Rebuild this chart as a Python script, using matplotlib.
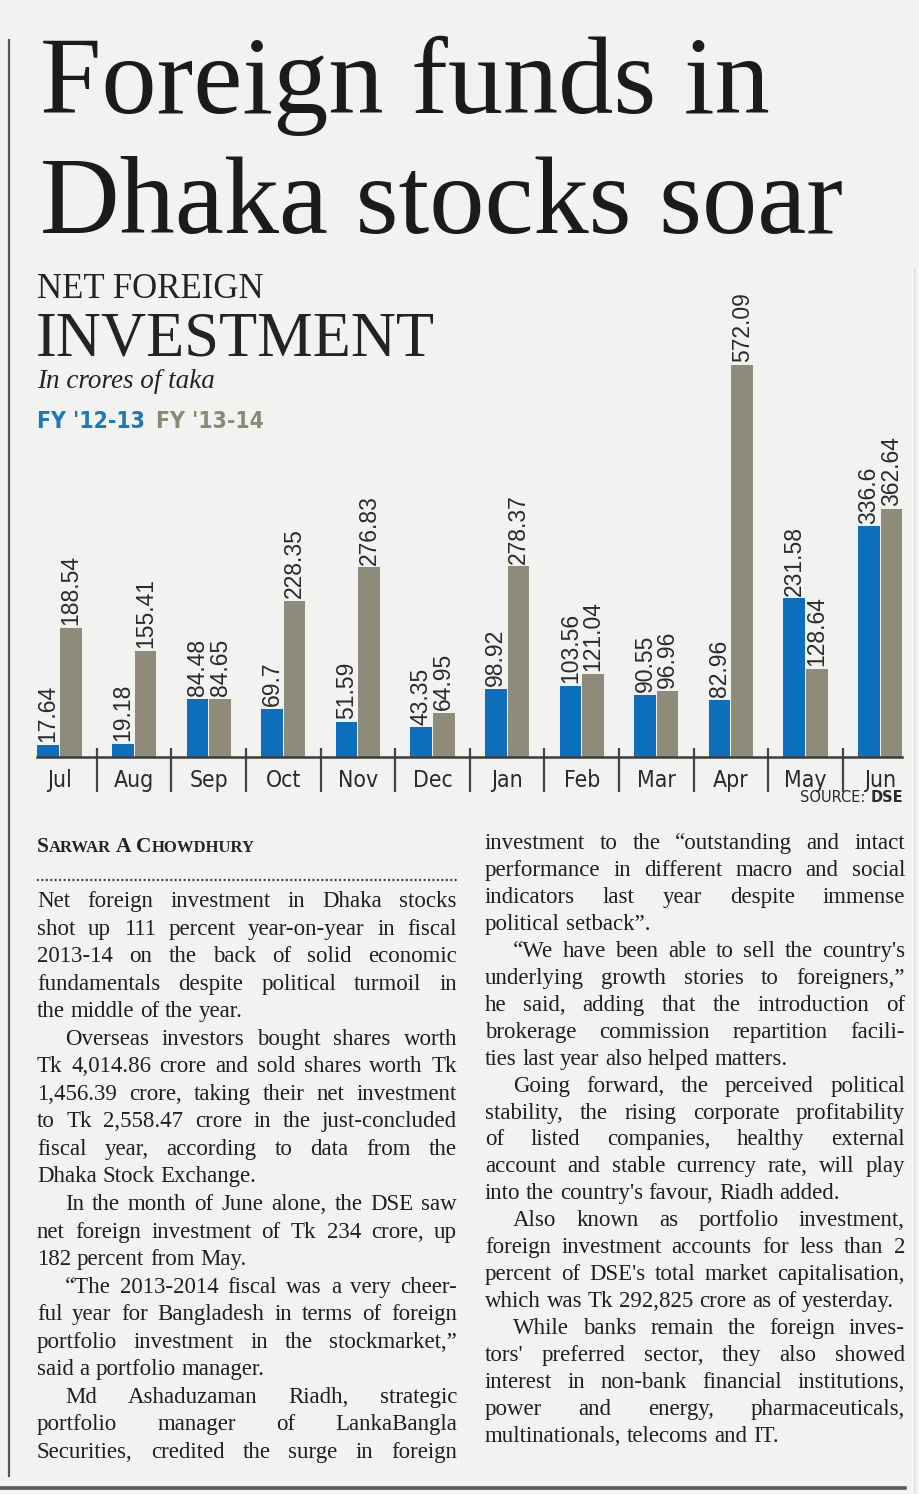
"""
Net foreign investment in Dhaka stocks - newspaper clipping remake
"""
import os
import matplotlib
matplotlib.use("Agg")
import matplotlib.pyplot as plt
from matplotlib import font_manager as fm

W, H = 920, 1494          # page size in pixels
BG = "#f2f2f0"
INK = "#232323"
BLUE = "#0d6fbd"
GREY = "#8e8b7b"
BLUE_TXT = "#1b77be"
GREY_TXT = "#8b8975"

# ---- chart data (crore taka) ----
months = ["Jul", "Aug", "Sep", "Oct", "Nov", "Dec",
          "Jan", "Feb", "Mar", "Apr", "May", "Jun"]
fy_12_13 = [17.64, 19.18, 84.48, 69.7, 51.59, 43.35,
            98.92, 103.56, 90.55, 82.96, 231.58, 336.6]
fy_13_14 = [188.54, 155.41, 84.65, 228.35, 276.83, 64.95,
            278.37, 121.04, 96.96, 572.09, 128.64, 362.64]
series_names = ["FY '12-13", "FY '13-14"]

# ---- article text, one list per paragraph ----
left_paras = [
    ["Net foreign investment in Dhaka stocks",
     "shot up 111 percent year-on-year in fiscal",
     "2013-14 on the back of solid economic",
     "fundamentals despite political turmoil in",
     "the middle of the year."],
    ["Overseas investors bought shares worth",
     "Tk 4,014.86 crore and sold shares worth Tk",
     "1,456.39 crore, taking their net investment",
     "to Tk 2,558.47 crore in the just-concluded",
     "fiscal year, according to data from the",
     "Dhaka Stock Exchange."],
    ["In the month of June alone, the DSE saw",
     "net foreign investment of Tk 234 crore, up",
     "182 percent from May."],
    ["\u201cThe 2013-2014 fiscal was a very cheer-",
     "ful year for Bangladesh in terms of foreign",
     "portfolio investment in the stockmarket,\u201d",
     "said a portfolio manager."],
    ["Md Ashaduzaman Riadh, strategic",
     "portfolio manager of LankaBangla",
     "Securities, credited the surge in foreign"],
]
right_paras = [
    ["investment to the \u201coutstanding and intact",
     "performance in different macro and social",
     "indicators last year despite immense",
     "political setback\u201d."],
    ["\u201cWe have been able to sell the country's",
     "underlying growth stories to foreigners,\u201d",
     "he said, adding that the introduction of",
     "brokerage commission repartition facili-",
     "ties last year also helped matters."],
    ["Going forward, the perceived political",
     "stability, the rising corporate profitability",
     "of listed companies, healthy external",
     "account and stable currency rate, will play",
     "into the country's favour, Riadh added."],
    ["Also known as portfolio investment,",
     "foreign investment accounts for less than 2",
     "percent of DSE's total market capitalisation,",
     "which was Tk 292,825 crore as of yesterday."],
    ["While banks remain the foreign inves-",
     "tors' preferred sector, they also showed",
     "interest in non-bank financial institutions,",
     "power and energy, pharmaceuticals,",
     "multinationals, telecoms and IT."],
]

# ---- fonts ----
_names = {f.name for f in fm.fontManager.ttflist}
SERIF = "Liberation Serif" if "Liberation Serif" in _names else "DejaVu Serif"
SANS = "Liberation Sans" if "Liberation Sans" in _names else "DejaVu Sans"
plt.rcParams["font.family"] = [SERIF, "DejaVu Serif"]


def narrow_font(size, bold=False):
    """A condensed sans if one is installed, else the plain sans a bit smaller."""
    for f in fm.fontManager.ttflist:
        fn = os.path.basename(f.fname)
        if not ("Narrow" in fn or "SansCondensed" in fn or "Condensed" in fn):
            continue
        if "Italic" in fn or "Oblique" in fn or "Serif" in fn or "Mono" in fn:
            continue
        if ("Bold" in fn) != bold:
            continue
        return fm.FontProperties(fname=f.fname, size=size)
    return fm.FontProperties(family=SANS, size=size * 0.84,
                             weight="bold" if bold else "normal")


fig = plt.figure(figsize=(W / 100, H / 100), dpi=100, facecolor=BG)
renderer = fig.canvas.get_renderer()

# page axes in pixel coordinates, origin top-left
page = fig.add_axes([0, 0, 1, 1])
page.set_xlim(0, W)
page.set_ylim(H, 0)
page.axis("off")


def width_of(t):
    return t.get_window_extent(renderer).width


# ---- headline ----
page.text(40, 113, "Foreign funds in", fontsize=79.5, family=SERIF, color="#1b1b1b", va="baseline")
page.text(40, 233, "Dhaka stocks soar", fontsize=79.5, family=SERIF, color="#1b1b1b", va="baseline")

# rules round the page
page.plot([9, 9], [40, 1476], color="#555555", lw=1.6)
page.plot([0, 905], [1488, 1488], color="#5a5a5a", lw=2.6)
page.plot([915, 915], [270, H], color="#e4e4e2", lw=1.5)

# ---- chart header ----
page.text(37, 298, "NET FOREIGN", fontsize=25, family=SERIF, color=INK, va="baseline")
page.text(36, 355, "INVESTMENT", fontsize=45, family=SERIF, color=INK, va="baseline")
page.text(37, 388, "In crores of taka", fontsize=19.5, family=SERIF, style="italic",
          color=INK, va="baseline")
fy_fp = narrow_font(16.5, bold=True)
t1 = page.text(37, 428, series_names[0], fontproperties=fy_fp, color=BLUE_TXT, va="baseline")
page.text(37 + width_of(t1) + 11, 428, series_names[1], fontproperties=fy_fp,
          color=GREY_TXT, va="baseline")

# ---- bar chart ----
BASE_Y, TOP_Y = 757, 270     # pixel rows of the zero line and the top of the chart box
PX_PER_UNIT = 0.685          # pixels per crore
GROUP_PX, FIRST_PX = 74.6, 59.5
ax = fig.add_axes([0, (H - BASE_Y) / H, 1, (BASE_Y - TOP_Y) / H])
ax.set_xlim(-FIRST_PX / GROUP_PX, (W - FIRST_PX) / GROUP_PX)
ax.set_ylim(0, (BASE_Y - TOP_Y) / PX_PER_UNIT)
ax.axis("off")

bw, off = 0.29, 0.152
xs = list(range(len(months)))
ax.bar([x - off for x in xs], fy_12_13, width=bw, color=BLUE, zorder=2)
ax.bar([x + off for x in xs], fy_13_14, width=bw, color=GREY, zorder=2)

for x, a, b in zip(xs, fy_12_13, fy_13_14):
    for xx, v in ((x - off, a), (x + off, b)):
        ax.annotate(f"{v:g}", (xx, v), xytext=(0, 2), textcoords="offset points",
                    rotation=90, ha="center", va="bottom", fontsize=16.5,
                    family=SANS, color="#2a2a2a", annotation_clip=False)

x_left = xs[0] - off - bw / 2
x_right = xs[-1] + off + bw / 2
ax.plot([x_left, x_right], [0, 0], color="#3c3c3c", lw=1.8, clip_on=False, zorder=3)
seps = [x + 0.5 for x in xs[:-1]]
ax.vlines(seps, -35 / PX_PER_UNIT, 9 / PX_PER_UNIT, color="#444444", lw=1.6, clip_on=False)

month_fp = narrow_font(16.5)
for x, m in zip(xs, months):
    ax.annotate(m, (x, 0), xytext=(0, -21.5), textcoords="offset points", ha="center",
                va="baseline", fontproperties=month_fp, color="#2a2a2a",
                annotation_clip=False)

dse = page.text(903, 802, "DSE", fontsize=10.5, family="DejaVu Sans", weight="bold",
                color="#2a2a2a", ha="right", va="baseline")
page.text(903 - width_of(dse), 802, "SOURCE: ", fontsize=10.5, family="DejaVu Sans",
          color="#2a2a2a", ha="right", va="baseline")

# ---- byline in small caps ----
x = 37
for word in ["Sarwar", "A", "Chowdhury"]:
    t = page.text(x, 852, word[0], fontsize=15.5, family=SERIF, weight="bold",
                  color=INK, va="baseline")
    x += width_of(t)
    if len(word) > 1:
        t = page.text(x, 852, word[1:].upper(), fontsize=12, family=SERIF,
                      weight="bold", color=INK, va="baseline")
        x += width_of(t)
    x += 5
page.plot([37, 457], [880, 880], color="#333333", lw=1.6, ls=(0, (0.8, 1.2)))

# ---- justified body text ----
BODY = dict(fontsize=16.5, family=SERIF, color="#1f1f1f", va="baseline")
space_px = 0.25 * BODY["fontsize"] * 100 / 72
INDENT = 28


def set_line(text, x0, x1, y, justify):
    words = text.split()
    arts = [page.text(0, y, w, **BODY) for w in words]
    widths = [width_of(a) for a in arts]
    gap = space_px
    if justify and len(words) > 1:
        gap = max((x1 - x0 - sum(widths)) / (len(words) - 1), 0.5 * space_px)
    xx = x0
    for a, w in zip(arts, widths):
        a.set_x(xx)
        xx += w + gap


def set_column(paras, x0, x1, y0, lead, first_indent, last_continues):
    y = y0
    for pi, para in enumerate(paras):
        for li, line in enumerate(para):
            indent = INDENT if (li == 0 and (pi > 0 or first_indent)) else 0
            last = li == len(para) - 1
            justify = not last or (pi == len(paras) - 1 and last_continues)
            set_line(line, x0 + indent, x1, y, justify)
            y += lead


set_column(left_paras, 37, 457, 907, 27.55, first_indent=False, last_continues=True)
set_column(right_paras, 485, 905, 849, 26.95, first_indent=False, last_continues=False)

fig.savefig("out.png", dpi=100, facecolor=BG)
